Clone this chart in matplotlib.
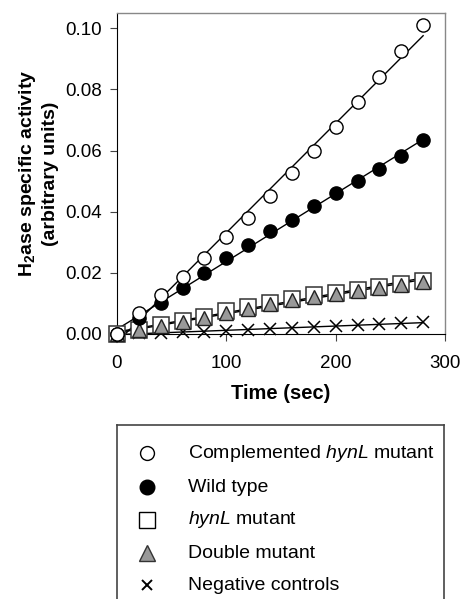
import numpy as np
import matplotlib
matplotlib.use('Agg')
import matplotlib.pyplot as plt

plt.rcParams['font.family'] = ['Liberation Sans', 'DejaVu Sans']
plt.rcParams['mathtext.fontset'] = 'custom'
plt.rcParams['mathtext.rm'] = 'Liberation Sans'
plt.rcParams['mathtext.it'] = 'Liberation Sans:italic'
plt.rcParams['mathtext.bf'] = 'Liberation Sans:bold'

# data
time_sec = [0, 20, 40, 60, 80, 100, 120, 140, 160, 180, 200, 220, 240, 260, 280]
complemented = [0.0, 0.0068, 0.0128, 0.0188, 0.0248, 0.0317, 0.0379, 0.0452, 0.0527,
                0.0598, 0.0678, 0.0758, 0.0840, 0.0925, 0.1010]
wild_type = [0.0, 0.0051, 0.0103, 0.0150, 0.0199, 0.0248, 0.0292, 0.0336, 0.0374,
             0.0418, 0.0462, 0.0502, 0.0540, 0.0582, 0.0633]
hynl_mutant = [0.0, 0.0014, 0.0030, 0.0043, 0.0057, 0.0075, 0.0088, 0.0102, 0.0116,
               0.0126, 0.0135, 0.0145, 0.0155, 0.0165, 0.0175]
double_mutant = [0.0, 0.0012, 0.0026, 0.0039, 0.0053, 0.0069, 0.0083, 0.0097, 0.0111,
                 0.0121, 0.0131, 0.0141, 0.0151, 0.0161, 0.0171]
negative = [0.0, 0.0002, 0.0004, 0.0006, 0.0008, 0.0011, 0.0014, 0.0017, 0.0020,
            0.0023, 0.0026, 0.0029, 0.0032, 0.0035, 0.0038]

labels = ['Complemented $\\it{hynL}$ mutant', 'Wild type', '$\\it{hynL}$ mutant',
          'Double mutant', 'Negative controls']

W, H = 462, 599
fig = plt.figure(figsize=(W / 100, H / 100), dpi=100)
ax = fig.add_axes([117 / W, 1 - 334 / H, (445 - 117) / W, (334 - 13) / H])

t = np.array(time_sec)
styles = {
    'neg': dict(marker='x', ms=9, mew=1.1, color='black', mfc='black'),
    'sq': dict(marker='s', ms=12, mew=1.1, color='black', mfc='white', mec='#333333'),
    'tri': dict(marker='^', ms=9.5, mew=1.0, color='black', mfc='#999999', mec='#222222'),
    'wt': dict(marker='o', ms=9.5, mew=1.0, color='black', mfc='black'),
    'comp': dict(marker='o', ms=9.5, mew=1.0, color='black', mfc='white'),
}
series = [(negative, 'neg'), (hynl_mutant, 'sq'), (double_mutant, 'tri'),
          (wild_type, 'wt'), (complemented, 'comp')]
for vals, key in series:
    y = np.array(vals)
    k, b = np.polyfit(t, y, 1)
    xf = np.array([t[0], t[-1]])
    ax.plot(xf, k * xf + b, color='black', lw=1.0, zorder=2, clip_on=False)
    ax.plot(t, y, ls='none', zorder=3, clip_on=False, **styles[key])

ax.set_xlim(0, 300)
ax.set_ylim(0, 0.105)
ax.set_xticks([0, 100, 200, 300])
ax.set_yticks([0, 0.02, 0.04, 0.06, 0.08, 0.10])
ax.set_yticklabels(['0.00', '0.02', '0.04', '0.06', '0.08', '0.10'])
ax.tick_params(labelsize=13.5, length=5, width=0.8, color='#444444')
ax.tick_params(axis='x', pad=10)
ax.tick_params(axis='y', pad=6)
for s in ['top', 'right']:
    ax.spines[s].set_color('#888888')
    ax.spines[s].set_linewidth(1.0)
ax.spines['left'].set_color('black')
ax.spines['bottom'].set_color('black')

ax.set_xlabel('Time (sec)', fontsize=14.5, fontweight='bold', labelpad=9)
ax.set_ylabel('H$_\\mathbf{2}$ase specific activity\n(arbitrary units)', fontsize=14,
              fontweight='bold', linespacing=1.25)
ax.yaxis.set_label_coords(-0.178, 0.5)

# legend box, cut off at the bottom of the picture
lax = fig.add_axes([117 / W, -0.05, (444 - 117) / W, 1 - 425 / H + 0.05])
lax.set_xticks([])
lax.set_yticks([])
for s in lax.spines.values():
    s.set_color('#444444')
    s.set_linewidth(1.2)

leg_styles = [
    dict(marker='o', ms=10, mfc='white', mec='black', mew=1.0),
    dict(marker='o', ms=10.5, mfc='black', mec='black'),
    dict(marker='s', ms=11, mfc='white', mec='black', mew=1.0),
    dict(marker='^', ms=11, mfc='#999999', mec='#333333', mew=1.0),
    dict(marker='x', ms=7, mec='black', mew=1.4),
]
row_y = [453, 487, 520, 553, 585]
for lab, st, yy in zip(labels, leg_styles, row_y):
    lax.plot([147 / W], [1 - yy / H], ls='none', transform=fig.transFigure,
             clip_on=False, **st)
    fig.text(188 / W, 1 - yy / H, lab, fontsize=14, va='center', ha='left')

fig.savefig('out.png', dpi=100)
